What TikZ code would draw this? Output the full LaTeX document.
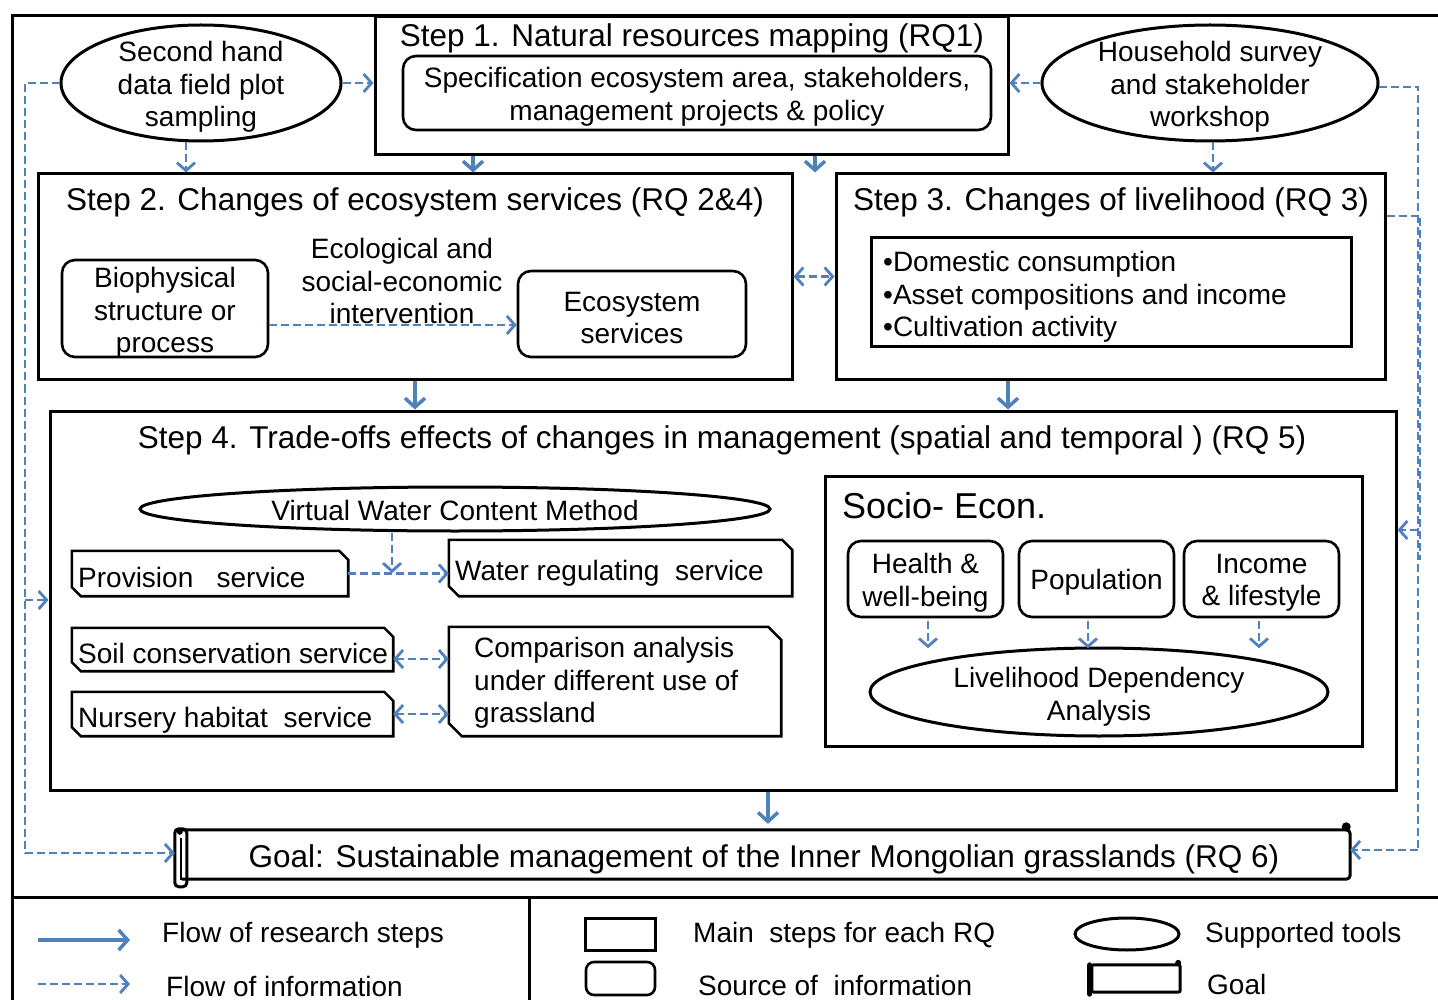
\documentclass[tikz,border=0pt]{standalone}
\usepackage{fontspec}
\setmainfont{Liberation Sans}
\usetikzlibrary{arrows.meta,shapes.geometric,calc}
\definecolor{fblue}{HTML}{4F81BD}
\newcommand\chamfbox[2]{\draw[chamf] (#1.north west) -- ($(#1.north east)+(-#2,0)$) -- ($(#1.north east)+(0,#2)$) -- (#1.south east) -- ($(#1.south west)+(#2,0)$) -- ($(#1.south west)+(0,-#2)$) -- cycle;}
\begin{document}
\begin{tikzpicture}[x=1pt,y=-1pt,
  sz/.style 2 args={minimum width=#1pt, minimum height=#2pt},
  box/.style={draw, line width=3pt, inner sep=0pt, rectangle},
  rbox/.style={draw, line width=2.6pt, inner sep=0pt, rounded corners=13pt, rectangle},
  ell/.style={draw, ellipse, line width=3pt, inner sep=0pt},
  ghost/.style={inner sep=0pt, rectangle},
  chamf/.style={line width=2.6pt, line join=miter},
  txt/.style={font=\fontsize{28}{32.5}\selectfont, align=center, inner sep=0pt},
  ltxt/.style={font=\fontsize{28}{32.5}\selectfont, align=left, inner sep=0pt, anchor=west},
  ttl/.style={font=\fontsize{31.5}{36}\selectfont, inner sep=0pt},
  flow/.style={draw=fblue, line width=3.5pt, -{Straight Barb[length=9pt,width=20pt]}},
  info/.style={draw=fblue, line width=2.8pt, dash pattern=on 8pt off 4pt, -{Straight Barb[length=8pt,width=18pt]}},
  info2/.style={info, {Straight Barb[length=8pt,width=18pt]}-{Straight Barb[length=8pt,width=18pt]}},
  infoline/.style={draw=fblue, line width=2.8pt, dash pattern=on 8pt off 4pt},
]
\useasboundingbox (0,0) rectangle (1438,1000);
\fill[white] (0,0) rectangle (1438,1000);

% frame and legend dividers
\draw[line width=3pt] (12,1010) -- (12,16) -- (1450,16);
\draw[line width=3pt] (12,897) -- (1450,897);
\draw[line width=3pt] (529,897) -- (529,1010);

% Step 1
\node[box, sz={633}{138}] (s1) at (691.5,86) {};
\node[ttl] (s1t) at (692,38) {Step 1. Natural resources mapping (RQ1)};
\node[rbox, sz={588}{74}] (s1i) at (697,93) {};
\node[txt] (s1it) at (697,97) {Specification ecosystem area, stakeholders,\\management projects \& policy};

% tools ellipses
\node[ell, sz={280}{116}] (sh) at (201,83) {};
\node[txt] (sht) at (201,87) {Second hand\\data field plot\\sampling};
\node[ell, sz={336}{116}] (hh) at (1210,83) {};
\node[txt] (hht) at (1210,87) {Household survey\\and stakeholder\\workshop};

% Step 2
\node[box, sz={754}{205}] (s2) at (415,276.5) {};
\node[ttl] (s2t) at (415,202) {Step 2. Changes of ecosystem services (RQ 2\&4)};
\node[rbox, sz={206}{97}] (bio) at (165,308.5) {};
\node[txt] (biot) at (165,313) {Biophysical\\structure or\\process};
\node[txt] (ecot) at (402,281) {Ecological and\\social-economic\\intervention};
\node[rbox, sz={228}{86}] (es) at (632,314) {};
\node[txt] (est) at (632,318) {Ecosystem\\services};

% Step 3
\node[box, sz={549}{205}] (s3) at (1110.5,276.5) {};
\node[ttl] (s3t) at (1111,202) {Step 3. Changes of livelihood (RQ 3)};
\node[box, sz={480}{109}] (s3i) at (1111,292.5) {};
\node[ltxt] (s3it) at (883,297) {•Domestic consumption\\•Asset compositions and income\\•Cultivation activity};

% Step 4
\node[box, sz={1346}{379}] (s4) at (723,600.5) {};
\node[ttl] (s4t) at (722,440) {Step 4. Trade-offs effects of changes in management (spatial and temporal ) (RQ 5)};
\node[ell, sz={630}{44}] (vwc) at (455,509) {};
\node[txt] (vwct) at (455,510) {Virtual Water Content Method};

\node[ghost, sz={276}{45}] (prov) at (210,573.5) {}; \chamfbox{prov}{9}
\node[ltxt] (provt) at (78,577) {Provision\ \ \ service};
\node[ghost, sz={343}{56}] (wat) at (620.5,568) {}; \chamfbox{wat}{10}
\node[ltxt] (watt) at (455,573) {Water regulating\ \ service};
\node[ghost, sz={321}{43}] (soil) at (232.5,649.5) {}; \chamfbox{soil}{9}
\node[ltxt] (soilt) at (78,653) {Soil conservation service};
\node[ghost, sz={321}{44}] (nur) at (232.5,714) {}; \chamfbox{nur}{9}
\node[ltxt] (nurt) at (78,720) {Nursery habitat\ \ service};
\node[ghost, sz={332}{109}] (cmp) at (615,681.5) {}; \chamfbox{cmp}{13}
\node[ltxt] (cmpt) at (474,683) {Comparison analysis\\under different use of\\grassland};

% Socio-Econ
\node[box, sz={537}{270}] (se) at (1093.5,611) {};
\node[inner sep=0pt, anchor=west, font=\fontsize{36}{42}\selectfont] (set) at (842,506) {Socio- Econ.};
\node[rbox, sz={155}{76}] (hlt) at (925.5,579) {};
\node[txt] (hltt) at (925.5,583) {Health \&\\well-being};
\node[rbox, sz={155}{76}] (pop) at (1096.5,579) {};
\node[txt] (popt) at (1096.5,582) {Population};
\node[rbox, sz={155}{76}] (inc) at (1261.5,579) {};
\node[txt] (inct) at (1261.5,583) {Income\\\& lifestyle};
\node[ell, sz={458}{88}] (lda) at (1099,692) {};
\node[txt] (ldat) at (1099,697) {Livelihood Dependency\\Analysis};

% Goal scroll
\node[ghost, sz={1168}{49}] (goal) at (766,854.5) {};
\draw[line width=3pt, rounded corners=4pt] (goal.north west) -- (goal.north east) -- (goal.south east) -- (goal.south west);
\fill ($(goal.north east)+(-4,-3)$) circle (4.5pt);
\draw[line width=3pt, rounded corners=4pt] ($(goal.north west)+(-7,-1)$) rectangle ($(goal.north west)+(5,57)$);
\draw[line width=1.5pt] ($(goal.north west)+(-1,8)$) -- ($(goal.north west)+(-1,50)$);
\fill ($(goal.north west)+(-2,2)$) circle (3pt);
\node[inner sep=0pt, font=\fontsize{31.5}{36}\selectfont] (goalt) at (764,859) {Goal: Sustainable management of the Inner Mongolian grasslands (RQ 6)};

% research flow arrows
\coordinate (x473) at (473,0);
\coordinate (x815) at (815,0);
\coordinate (x1008) at (1008,0);
\coordinate (x768) at (768,0);
\draw[flow] (s1.south -| x473) -- (s2.north -| x473);
\draw[flow] (s1.south -| x815) -- (s2.north -| x815);
\draw[flow] (s2.south) -- (s4.north -| s2.south);
\draw[flow] (s3.south -| x1008) -- (s4.north -| x1008);
\draw[flow, shorten >=6pt] (s4.south -| x768) -- (goal.north -| x768);

% information flow
\draw[info] (sh.east) -- (s1.west |- sh.east);
\draw[info] ($(sh.south)+(-15,0)$) -- ($(s2.north -| sh.south)+(-15,0)$);
\coordinate (L1) at (25,83);
\coordinate (L2) at (25,600);
\coordinate (L3) at (25,853);
\draw[infoline] (sh.west) -- (L1) -- (L3);
\draw[info, shorten >=7pt] (L3) -- (goal.west |- L3);
\draw[info] (L2) -- (s4.west |- L2);

\draw[info] (hh.west) -- (s1.east |- hh.west);
\draw[info] ($(hh.south)+(3,0)$) -- ($(s3.north -| hh.south)+(3,0)$);
\coordinate (R1) at (1418,87);
\coordinate (R2) at (1418,216);
\coordinate (R3) at (1418,530);
\coordinate (R4) at (1418,850);
\coordinate (R2b) at (1420,216);
\coordinate (R3b) at (1420,560);
\draw[infoline] ($(hh.east)+(-1,4)$) -- (R1) -- (R4);
\draw[info] (R4) -- (goal.east |- R4);
\draw[info] (R3) -- (s4.east |- R3);
\draw[infoline] (s3.east |- R2) -- (R2b) -- (R3b);
\draw[info2] (s2.east) -- (s3.west);

\draw[info] ($(bio.east)+(0,16.5)$) -- ($(es.west)+(0,11)$);
\coordinate (V1) at (392,533);
\coordinate (V2) at (392,573);
\draw[info] (prov.east) -- (wat.west |- prov.east);
\draw[info] (V1) -- (V2);
\draw[info2] ($(soil.east)+(0,9.5)$) -- ($(cmp.west)+(0,-22.5)$);
\draw[info2] (nur.east) -- ($(cmp.west)+(0,32.5)$);

\draw[info] ($(hlt.south)+(2.5,3)$) -- ($(hlt.south)+(2.5,30)$);
\draw[info] ($(pop.south)+(-8.5,3)$) -- ($(pop.south)+(-8.5,30)$);
\draw[info] ($(inc.south)+(-2.5,3)$) -- ($(inc.south)+(-2.5,30)$);

% legend
\coordinate (lg1a) at (38,940);
\coordinate (lg1b) at (130,940);
\draw[flow] (lg1a) -- (lg1b);
\node[ltxt] (lg1t) at (162,935) {Flow of research steps};
\coordinate (lg2a) at (38,984);
\coordinate (lg2b) at (130,984);
\draw[info] (lg2a) -- (lg2b);
\node[ltxt] (lg2t) at (166,986) {Flow of information};
\node[box, sz={70}{32}] (lg3) at (620,934) {};
\node[ltxt] (lg3t) at (693,935) {Main\ \ steps for each RQ};
\node[rbox, rounded corners=8pt, sz={69}{33}] (lg4) at (620.5,978.5) {};
\node[ltxt] (lg4t) at (698,985) {Source of\ \ information};
\node[ell, sz={104}{32}] (lg5) at (1127,934) {};
\node[ltxt] (lg5t) at (1205,935) {Supported tools};
\node[ghost, sz={88}{27}] (lg6) at (1136,978.5) {};
\draw[line width=3pt, rounded corners=2pt] (lg6.north west) rectangle (lg6.south east);
\draw[line width=5pt, line cap=round] ($(lg6.north west)+(-2,0)$) -- ($(lg6.south west)+(-2,2)$);
\fill ($(lg6.north east)+(-2,-2)$) circle (3pt);
\node[ltxt] (lg6t) at (1207,984) {Goal};
\end{tikzpicture}
\end{document}
